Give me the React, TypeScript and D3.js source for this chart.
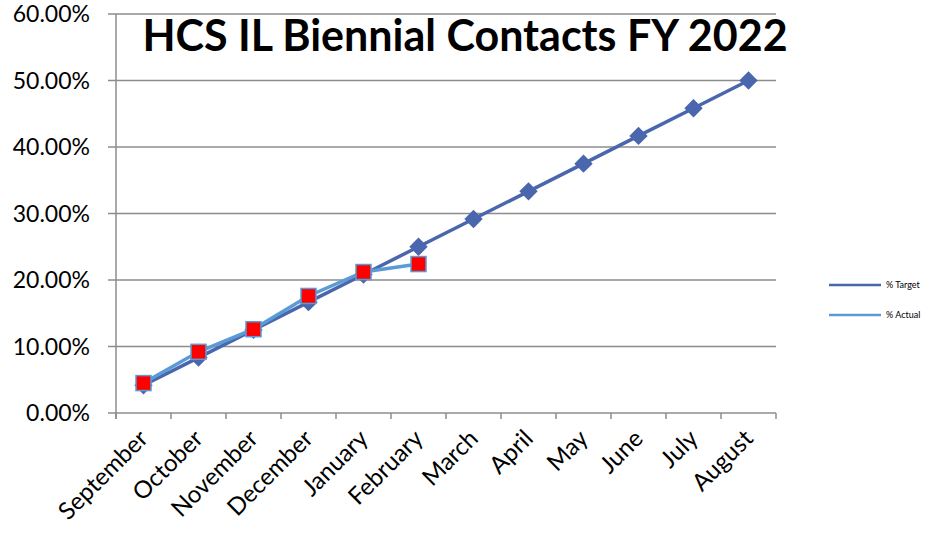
import React from "react";
import * as d3 from "d3";

const months = ["September","October","November","December","January","February","March","April","May","June","July","August"];
const targetValues = [0.0417,0.0833,0.125,0.1667,0.2083,0.25,0.2917,0.3333,0.375,0.4167,0.4583,0.5];
const actualValues = [0.045,0.092,0.126,0.176,0.212,0.224];
const yTicks = [0,0.1,0.2,0.3,0.4,0.5,0.6];
const seriesNames = ["% Target","% Actual"];
const title = "HCS IL Biennial Contacts FY 2022";

const W = 934, H = 534;
const left = 116, right = 776, top = 14, bottom = 413;
const targetColor = "#4a66ac";
const actualColor = "#5b9bd5";
const font = "Lato, sans-serif";

export default function App() {
  const x = d3.scaleBand<string>().domain(months).range([left, right]);
  const y = d3.scaleLinear().domain([0, 0.6]).range([bottom, top]);
  const cx = (m: string) => (x(m) as number) + x.bandwidth() / 2;
  const line = d3.line<number>().x((_, i) => cx(months[i])).y(d => y(d));
  const fmt = d3.format(".2%");
  return (
    <svg width={W} height={H} style={{ position: "absolute", left: 0, top: 0, background: "#fff" }}>
      {yTicks.map(t => (
        <g key={t}>
          <line x1={108} x2={right} y1={y(t)} y2={y(t)} stroke="#8c8c8c" strokeWidth={1.5} />
          <text x={90} y={y(t)} dy="0.36em" textAnchor="end" fontFamily={font} fontSize={23} fill="#000">{fmt(t)}</text>
        </g>
      ))}
      <line x1={left} x2={left} y1={top} y2={bottom + 6} stroke="#8c8c8c" strokeWidth={1.5} />
      {months.map((m, i) => (
        <line key={m} x1={x(m) as number} x2={x(m) as number} y1={bottom} y2={bottom + 6} stroke="#8c8c8c" strokeWidth={1.5} />
      ))}
      <line x1={right} x2={right} y1={bottom} y2={bottom + 6} stroke="#8c8c8c" strokeWidth={1.5} />
      {months.map(m => (
        <text key={m} transform={`translate(${cx(m) + 6},${bottom + 27}) rotate(-45)`} textAnchor="end" fontFamily={font} fontSize={24} fill="#000">{m}</text>
      ))}
      <path d={line(targetValues) as string} fill="none" stroke={targetColor} strokeWidth={3.5} />
      {targetValues.map((v, i) => (
        <rect key={i} x={-6.5} y={-6.5} width={13} height={13} fill={targetColor}
          transform={`translate(${cx(months[i])},${y(v)}) rotate(45)`} />
      ))}
      <path d={line(actualValues) as string} fill="none" stroke={actualColor} strokeWidth={3.5} />
      {actualValues.map((v, i) => (
        <rect key={i} x={cx(months[i]) - 7.5} y={y(v) - 7.5} width={15} height={15} fill="#ff0000" stroke={actualColor} strokeWidth={1.5} />
      ))}
      <text x={465} y={51} textAnchor="middle" fontFamily={font} fontWeight="bold" fontSize={43} fill="#000">{title}</text>
      {seriesNames.map((s, i) => (
        <g key={s} transform={`translate(0,${285 + i * 30})`}>
          <line x1={829} x2={881} y1={0} y2={0} stroke={i === 0 ? targetColor : actualColor} strokeWidth={2.5} />
          <text x={886} y={0} dy="0.35em" fontFamily={font} fontSize={9} fill="#000">{s}</text>
        </g>
      ))}
    </svg>
  );
}
